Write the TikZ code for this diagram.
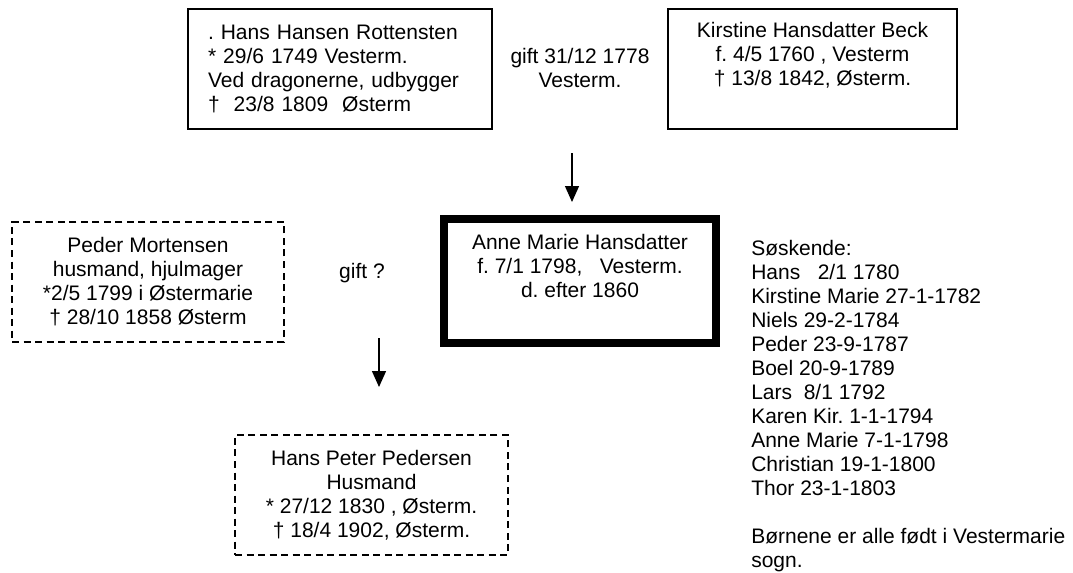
\documentclass[tikz,border=0pt]{standalone}
\usepackage{fontspec}
\setmainfont{Liberation Sans}
\usetikzlibrary{arrows.meta}
\newdimen\pix \pix=0.75pt
\frenchspacing

\begin{document}
\begin{tikzpicture}[x=0.75pt,y=-0.75pt,
	every node/.style={font=\fontsize{15.75}{18}\selectfont,inner sep=0pt},
	boks/.style={draw,line width=1.1pt,minimum height=120\pix,align=center},
	stiplet/.style={boks,line width=0.9pt,dash pattern=on 5.25pt off 3.4pt},
	pil/.style={line width=1pt,-{Triangle[length=12pt,width=10.5pt]}}]

\useasboundingbox (0,0) rectangle (1073,572);

%----------foraeldre------------
\node[boks,minimum width=304\pix,text width=264\pix,align=left] (hans) at (340,69)
	{. Hans Hansen Rottensten\\ {*} 29/6 1749 Vesterm.\\ Ved dragonerne, udbygger\\ \textdagger\ \ 23/8 1809 \ Østerm};
\node[boks,minimum width=289\pix] (kirstine) at (812.5,69)
	{Kirstine Hansdatter Beck\\ f. 4/5 1760 , Vesterm\\ \textdagger\ 13/8 1842, Østerm.\\ \strut};
\node[align=center] (gift1) at (580,67.5) {gift 31/12 1778\\ Vesterm.};

%pil ned til Anne Marie
\coordinate (pil1a) at (572,153);
\coordinate (pil1b) at (572,202);
\draw[pil] (pil1a) -- (pil1b);

%----------Anne Marie------------
\node[draw,line width=6pt,minimum width=272\pix,minimum height=124\pix,align=center] (anne) at (580,281)
	{Anne Marie Hansdatter\\ f. 7/1 1798, \ \ Vesterm.\\ d. efter 1860\\ \strut};

\node[stiplet,minimum width=272\pix] (peder) at (148,282)
	{Peder Mortensen\\ husmand, hjulmager\\ {*}2/5 1799 i Østermarie\\ \textdagger\ 28/10 1858 Østerm};
\node (gift2) at (362,273) {gift ?};

%pil ned til Hans Peter
\coordinate (pil2a) at (379,338);
\coordinate (pil2b) at (379,387);
\draw[pil] (pil2a) -- (pil2b);

\node[stiplet,minimum width=273\pix] (hanspeter) at (371.5,495)
	{Hans Peter Pedersen\\ Husmand\\ {*} 27/12 1830 , Østerm.\\ \textdagger\ 18/4 1902, Østerm.};

%----------soeskende------------
\node[anchor=north west,align=left] (soeskende) at (751,240)
	{Søskende:\\ Hans\ \ \ 2/1 1780\\ Kirstine Marie 27-1-1782\\ Niels 29-2-1784\\ Peder 23-9-1787\\
	 Boel 20-9-1789\\ Lars\ \ 8/1 1792\\ Karen Kir. 1-1-1794\\ Anne Marie 7-1-1798\\ Christian 19-1-1800\\
	 Thor 23-1-1803\\ \strut\\ Børnene er alle født i Vestermarie\\ sogn.};

\end{tikzpicture}
\end{document}
